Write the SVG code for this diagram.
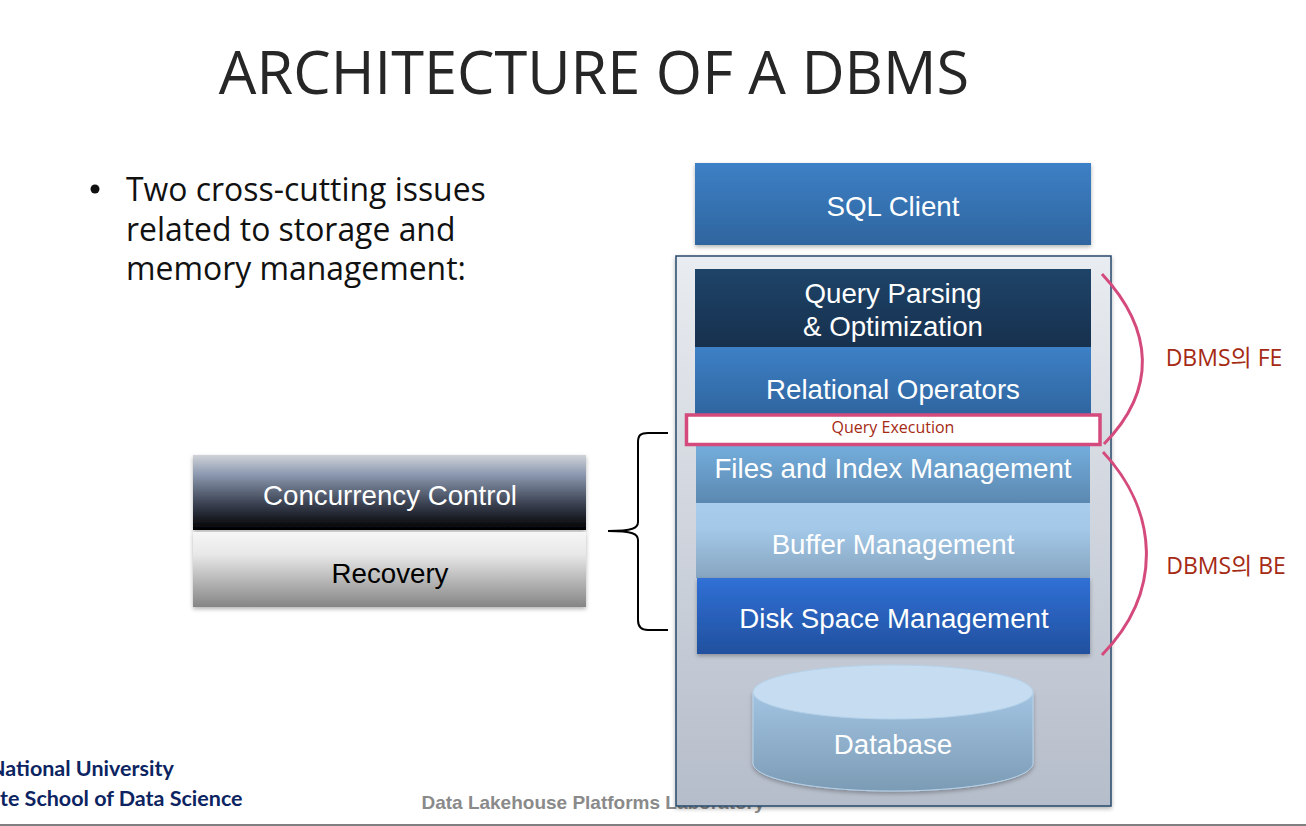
<svg xmlns="http://www.w3.org/2000/svg" width="1306" height="826" viewBox="0 0 1306 826">
<style>
.a{font-family:"Liberation Sans",Arial,sans-serif;text-anchor:middle;font-size:27.7px;fill:#fff}
.k{font-family:"Open Sans","Noto Sans","Noto Sans CJK KR",sans-serif}
.kr{font-family:"Open Sans","Noto Sans CJK KR",sans-serif;fill:#a52a14;text-anchor:middle}
.n{font-family:Lato,"Open Sans",sans-serif;font-weight:700;font-size:21.500px;fill:#0c2461}
.c{fill:none;stroke:#d44a7c;stroke-width:3}
</style>
<defs>
<linearGradient id="outer" x1="0" y1="0" x2="0" y2="1"><stop offset="0" stop-color="#e9ecf0"/><stop offset="1" stop-color="#b5bdca"/></linearGradient>
<linearGradient id="blue" x1="0" y1="0" x2="0" y2="1"><stop offset="0" stop-color="#3d80c6"/><stop offset="1" stop-color="#2f659f"/></linearGradient>
<linearGradient id="navy" x1="0" y1="0" x2="0" y2="1"><stop offset="0" stop-color="#1e4468"/><stop offset="1" stop-color="#17304e"/></linearGradient>
<linearGradient id="files" x1="0" y1="0" x2="0" y2="1"><stop offset="0" stop-color="#74aedd"/><stop offset="1" stop-color="#5b88b0"/></linearGradient>
<linearGradient id="buffer" x1="0" y1="0" x2="0" y2="1"><stop offset="0" stop-color="#a9cdec"/><stop offset="0.35" stop-color="#a3c8e8"/><stop offset="1" stop-color="#86a5bf"/></linearGradient>
<linearGradient id="disk" x1="0" y1="0" x2="0" y2="1"><stop offset="0" stop-color="#3070d6"/><stop offset="1" stop-color="#21509e"/></linearGradient>
<linearGradient id="cc" x1="0" y1="0" x2="0" y2="1"><stop offset="0" stop-color="#d0d3d8"/><stop offset="0.25" stop-color="#8e9bb2"/><stop offset="0.65" stop-color="#3b4252"/><stop offset="1" stop-color="#000"/></linearGradient>
<linearGradient id="rec" x1="0" y1="0" x2="0" y2="1"><stop offset="0" stop-color="#f6f6f6"/><stop offset="0.3" stop-color="#e8e8e8"/><stop offset="1" stop-color="#858585"/></linearGradient>
<linearGradient id="cyl" x1="0" y1="0" x2="0" y2="1"><stop offset="0" stop-color="#a2c4e2"/><stop offset="1" stop-color="#7c9bb5"/></linearGradient>
<filter id="sh" x="-5%" y="-10%" width="110%" height="125%"><feDropShadow dx="0" dy="2" stdDeviation="2" flood-color="#000" flood-opacity="0.3"/></filter>
</defs>
<rect width="1306" height="826" fill="#fff"/>
<text id="title" x="594" y="94" class="k" font-size="59.500" fill="#262626" text-anchor="middle">ARCHITECTURE OF A DBMS</text>
<g id="bullets" class="k" font-size="31.900" fill="#111">
<circle cx="95" cy="189" r="4.500" fill="#111"/>
<text x="126" y="201">Two cross-cutting issues</text>
<text x="126" y="241">related to storage and</text>
<text x="126" y="280">memory management:</text>
</g>
<text id="footer-lab" x="593" y="809" font-family="Liberation Sans,Arial,sans-serif" font-weight="700" font-size="19" fill="#8a8a8a" text-anchor="middle">Data Lakehouse Platforms Laboratory</text>
<g id="footer-school" class="n">
<text x="-11" y="776">National University</text>
<text x="0" y="806">te School of Data Science</text>
</g>
<rect id="footer-rule" x="0" y="824" width="1306" height="2" fill="#808080"/>
<g id="container"><rect x="676" y="256" width="435" height="550" fill="url(#outer)" stroke="#26496c" stroke-width="1.500" filter="url(#sh)"/></g>
<g id="sql-client"><rect x="695" y="163" width="396" height="82" fill="url(#blue)" filter="url(#sh)"/><text class="a" x="893" y="216">SQL Client</text></g>
<g id="query-parsing"><rect x="695" y="269" width="396" height="78" fill="url(#navy)"/><text class="a" x="893" y="303">Query Parsing</text><text class="a" x="893" y="336">&amp; Optimization</text></g>
<g id="relational-operators"><rect x="695" y="347" width="396" height="68" fill="url(#blue)"/><text class="a" x="893" y="399">Relational Operators</text></g>
<g id="files-index"><rect x="696" y="445" width="394" height="58" fill="url(#files)"/><text class="a" x="893" y="478">Files and Index Management</text></g>
<g id="buffer-management"><rect x="696" y="503" width="394" height="75" fill="url(#buffer)"/><text class="a" x="893" y="554">Buffer Management</text></g>
<g id="disk-space"><rect x="697" y="578" width="393" height="76" fill="url(#disk)" filter="url(#sh)"/><text class="a" x="894" y="628">Disk Space Management</text></g>
<g id="query-execution"><rect x="686.500" y="415" width="413.500" height="29.500" fill="#fff" stroke="#d44a7c" stroke-width="3.500"/><text class="kr" x="893" y="433" font-size="16">Query Execution</text></g>
<g id="database">
<path d="M753 692V763C753 779 815 791 893 791S1033 779 1033 763V692Z" fill="url(#cyl)" stroke="#b5d2ea" stroke-width="1" filter="url(#sh)"/>
<ellipse cx="893" cy="692" rx="140" ry="27" fill="#c6dcf0" stroke="#b5d2ea" stroke-width="1"/>
<text class="a" x="893" y="754">Database</text>
</g>
<g id="concurrency-control"><rect x="193" y="455" width="393" height="75" fill="url(#cc)" filter="url(#sh)"/><text class="a" x="390" y="505">Concurrency Control</text></g>
<g id="recovery"><rect x="193" y="532" width="393" height="75" fill="url(#rec)" filter="url(#sh)"/><text class="a" x="390" y="583" style="fill:#000">Recovery</text></g>
<g id="connectors">
<path d="M668 433H648C641 433 638 435 638 442V522C638 528 633 531 608 531C633 531 638 534 638 540V620C638 627 641 630 648 630H668" fill="none" stroke="#000" stroke-width="2"/>
<path class="c" d="M1102 274C1154 330 1157 390 1104 444"/>
<path class="c" d="M1103 452C1157 510 1165 590 1102 655"/>
</g>
<text id="label-fe" class="kr" x="1224" y="366" font-size="23">DBMS의 FE</text>
<text id="label-be" class="kr" x="1226" y="574" font-size="23">DBMS의 BE</text>
</svg>
